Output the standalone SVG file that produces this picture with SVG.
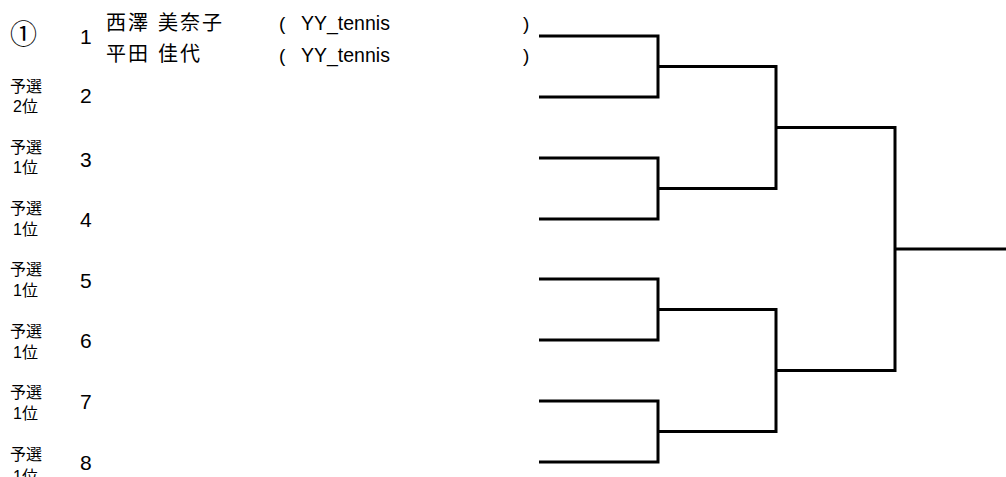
<svg xmlns="http://www.w3.org/2000/svg" width="1006" height="477" viewBox="0 0 1006 477">
<style>
.num{font-family:"Liberation Sans",Arial,sans-serif;font-size:21px;fill:#000}
.lbl{font-family:"Liberation Sans","Noto Sans CJK JP",sans-serif;font-size:16px;fill:#000}
.name{font-family:"Noto Sans CJK JP",sans-serif;font-size:20px;fill:#000;letter-spacing:2px;word-spacing:1.5px}
.club{font-family:"Liberation Sans","Noto Sans CJK JP",sans-serif;font-size:19.5px;fill:#000}
.par{font-family:"Liberation Sans",sans-serif;font-size:19px;fill:#000}
.seed{font-family:"Noto Sans CJK JP",sans-serif;font-size:27px;fill:#000}
.br{fill:none;stroke:#000;stroke-width:3;stroke-linejoin:miter;stroke-linecap:butt}
</style>
<rect width="1006" height="477" fill="#fff"/>
<g id="entry1">
<text class="seed" x="10" y="44">①</text>
<text class="num" x="80" y="44">1</text>
<text class="name" x="106" y="30">西澤 美奈子</text>
<text class="name" x="106" y="61">平田 佳代</text>
<text class="par" x="279" y="30">(</text>
<text class="club" x="301" y="30">YY_tennis</text>
<text class="par" x="523" y="30">)</text>
<text class="par" x="279" y="62">(</text>
<text class="club" x="301" y="62">YY_tennis</text>
<text class="par" x="523" y="62">)</text>
</g>
<g id="entry2"><text class="lbl" x="10" y="92">予選</text><text class="lbl" x="13" y="112">2位</text><text class="num" x="80" y="103">2</text></g>
<g id="entry3"><text class="lbl" x="10" y="153">予選</text><text class="lbl" x="13" y="173">1位</text><text class="num" x="80" y="167">3</text></g>
<g id="entry4"><text class="lbl" x="10" y="214">予選</text><text class="lbl" x="13" y="235">1位</text><text class="num" x="80" y="227">4</text></g>
<g id="entry5"><text class="lbl" x="10" y="275">予選</text><text class="lbl" x="13" y="296">1位</text><text class="num" x="80" y="288">5</text></g>
<g id="entry6"><text class="lbl" x="10" y="337">予選</text><text class="lbl" x="13" y="358">1位</text><text class="num" x="80" y="348">6</text></g>
<g id="entry7"><text class="lbl" x="10" y="398">予選</text><text class="lbl" x="13" y="419">1位</text><text class="num" x="80" y="409">7</text></g>
<g id="entry8"><text class="lbl" x="10" y="460">予選</text><text class="lbl" x="13" y="482">1位</text><text class="num" x="80" y="470">8</text></g>
<g id="connectors">
<path class="br" d="M539 36H658V97H539"/>
<path class="br" d="M539 158H658V219H539"/>
<path class="br" d="M539 279H658V340H539"/>
<path class="br" d="M539 401H658V462H539"/>
<path class="br" d="M658 66.5H776V188.5H658"/>
<path class="br" d="M658 309.5H776V431.5H658"/>
<path class="br" d="M776 127.5H895V370.5H776"/>
<path class="br" d="M895 249H1006"/>
</g>
</svg>
